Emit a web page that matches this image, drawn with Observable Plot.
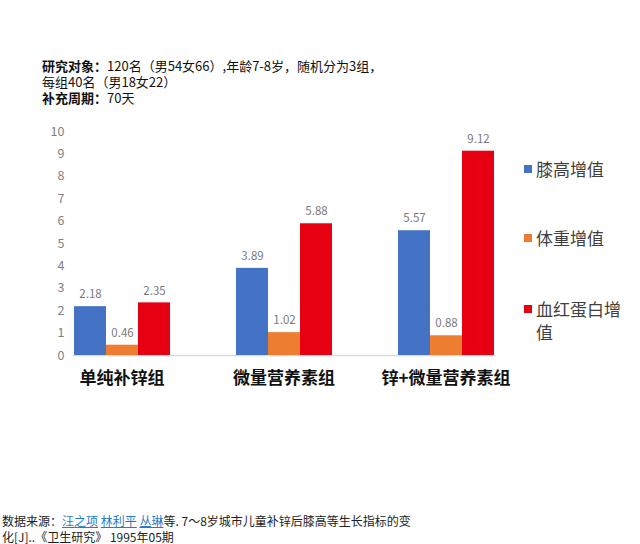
<!DOCTYPE html>
<html><head><meta charset="utf-8">
<script src="https://cdn.jsdelivr.net/npm/d3@7"></script>
<script src="https://cdn.jsdelivr.net/npm/@observablehq/plot@0.6"></script>
<style>
body{margin:0;background:#fff;font-family:"Noto Sans CJK SC","Noto Sans",sans-serif;}
#wrap{position:relative;width:640px;height:544px;overflow:hidden;background:#fff}
#note{position:absolute;left:42px;top:58px;font-size:13px;line-height:16px;color:#111}
#note b{font-weight:700}
#chart{position:absolute;left:0;top:112px}
#legend{position:absolute;left:521px;top:0;width:110px}
.li{position:absolute;left:0;width:110px;font-size:17px;line-height:23px;color:#404040;padding-left:15px;box-sizing:border-box}
.li span.sw{position:absolute;left:3px;top:8px;width:8px;height:8px}
#src{position:absolute;left:2px;top:513px;font-size:12px;line-height:16px;color:#222}
#src a{color:#2a7ac4;text-decoration:underline}
</style></head><body>
<div id="wrap">
  <div id="note"><b>研究对象：</b>120名（男54女66）,年龄7-8岁，随机分为3组，<br>每组40名（男18女22）<br><b>补充周期：</b>70天</div>
  <div id="chart"></div>
  <div id="legend"></div>
  <div id="src">数据来源：<a>汪之项</a> <a>林利平</a> <a>丛琳</a>等. 7～8岁城市儿童补锌后膝高等生长指标的变<br>化[J]..《卫生研究》 1995年05期</div>
</div>
<script>
const groups = ["单纯补锌组", "微量营养素组", "锌+微量营养素组"];
const series = ["膝高增值", "体重增值", "血红蛋白增值"];
const colors = ["#4472C4", "#ED7D31", "#E60012"];
const kneeHeight = [2.18, 3.89, 5.57];
const weightGain = [0.46, 1.02, 0.88];
const hemoglobin = [2.35, 5.88, 9.12];
const yTicks = [0, 1, 2, 3, 4, 5, 6, 7, 8, 9, 10];

const values = [kneeHeight, weightGain, hemoglobin];
const data = groups.flatMap((g, i) => series.map((s, j) => ({group: g, series: s, value: values[j][i]})));

const chart = Plot.plot({
  width: 640,
  height: 280,
  marginLeft: 40,
  marginRight: 112,
  marginTop: 19,
  marginBottom: 37,
  style: {fontFamily: '"Noto Sans CJK SC","Noto Sans",sans-serif', background: "transparent"},
  fx: {domain: groups, paddingInner: 0.4, paddingOuter: 0.2, label: null},
  x: {domain: series, padding: 0, axis: null},
  y: {domain: [0, 10], label: null, axis: null},
  color: {domain: series, range: colors},
  marks: [
    Plot.axisY({ticks: yTicks, tickSize: 0, tickPadding: 9, fontSize: 12.5, color: "#808080", label: null}),
    Plot.axisFx({anchor: "bottom", tickSize: 0, tickPadding: 16, fontSize: 17, fontWeight: "bold", color: "#111", label: null}),
    Plot.frame({anchor: "bottom", stroke: "#d9d9d9", strokeWidth: 1.5, facet: "super"}),
    Plot.barY(data, {fx: "group", x: "series", y: "value", fill: "series"}),
    Plot.text(data, {fx: "group", x: "series", y: "value", text: d => d.value.toFixed(2), dy: -12, fontSize: 11.5, fill: "#7a7a7a"})
  ]
});
document.getElementById("chart").appendChild(chart);

const legendTops = [157, 226, 297];
const legend = document.getElementById("legend");
series.forEach((s, i) => {
  const div = document.createElement("div");
  div.className = "li";
  div.style.top = legendTops[i] + "px";
  const sw = document.createElement("span");
  sw.className = "sw";
  sw.style.background = colors[i];
  div.appendChild(sw);
  div.appendChild(document.createTextNode(s));
  legend.appendChild(div);
});
</script>
</body></html>
